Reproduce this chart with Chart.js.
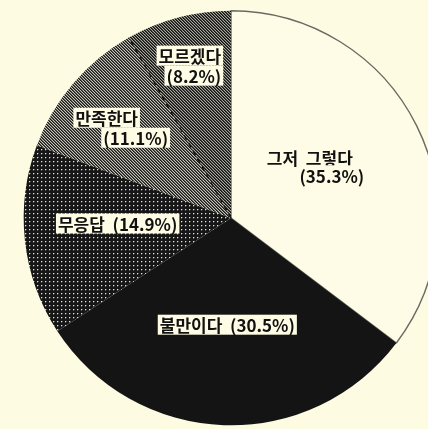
<!DOCTYPE html>
<html>
<head>
<meta charset="utf-8">
<script src="https://cdn.jsdelivr.net/npm/chart.js@4/dist/chart.umd.min.js"></script>
<style>
  html, body { margin: 0; padding: 0; background: #fdfbe2; overflow: hidden; }
  #wrap { width: 428px; height: 429px; overflow: hidden; }
  canvas { display: block; }
</style>
</head>
<body>
<div id="wrap"><canvas id="pie" width="462" height="429"></canvas></div>
<script>
// Survey answers, clockwise from 12 o'clock
const answers = ['그저  그렇다', '불만이다', '무응답', '만족한다', '모르겠다'];
const shares = [35.3, 30.5, 14.9, 11.1, 8.2];

// Label placement: fraction of radius along the slice's mid angle, then per-line nudges
const labelLayout = [
    { f: 0.484, split: true,  lines: [[-11, -15.5], [11, 2]] },
    { f: 0.515, split: false, lines: [[0, 0]] },
    { f: 0.55,  split: false, lines: [[0, -7]] },
    { f: 0.70,  split: true,  lines: [[-14, -6], [15, 14]] },
    { f: 0.76,  split: true,  lines: [[-1, -10], [3, 10]] }
];

// Small tiles for the print-style fills
function makeTile(size, paint) {
    const c = document.createElement('canvas');
    c.width = size;
    c.height = size;
    const g = c.getContext('2d');
    paint(g, size);
    return g.createPattern(c, 'repeat');
}

function hatch(light, dark, mid) {
    return makeTile(3, (g, s) => {
        g.fillStyle = light;
        g.fillRect(0, 0, s, s);
        for (let y = 0; y < s; y++) {
            for (let x = 0; x < s; x++) {
                const k = ((x - y) % s + s) % s;
                if (k === 0) { g.fillStyle = dark; g.fillRect(x, y, 1, 1); }
                if (k === 1) { g.fillStyle = mid; g.fillRect(x, y, 1, 1); }
            }
        }
    });
}

const dots = makeTile(4, (g, s) => {
    g.fillStyle = '#161616';
    g.fillRect(0, 0, s, s);
    g.fillStyle = '#5c5c56';
    g.fillRect(2, 1, 1, 1);
    g.fillRect(1, 2, 1, 1);
    g.fillStyle = '#e2e2d8';
    g.fillRect(1, 1, 1, 1);
});

const fills = [
    '#fefce6',
    '#141414',
    dots,
    hatch('#c6c5ba', '#1a1a1a', '#56564f'),
    hatch('#a9a89e', '#111111', '#44443e')
];

// Dashed divider between the two hatched slices + boxed labels
const pieLabels = {
    id: 'pieLabels',
    afterDatasetsDraw(chart) {
        const ctx = chart.ctx;
        const arcs = chart.getDatasetMeta(0).data;

        const cut = arcs[4];
        ctx.save();
        ctx.strokeStyle = '#111';
        ctx.lineWidth = 1.4;
        ctx.setLineDash([5, 4]);
        ctx.beginPath();
        ctx.moveTo(cut.x, cut.y);
        ctx.lineTo(cut.x + Math.cos(cut.startAngle) * cut.outerRadius,
                   cut.y + Math.sin(cut.startAngle) * cut.outerRadius);
        ctx.stroke();
        ctx.restore();

        ctx.save();
        ctx.font = 'bold 17px "Noto Sans CJK KR", "Noto Sans", sans-serif';
        ctx.textAlign = 'center';
        ctx.textBaseline = 'middle';
        arcs.forEach((arc, i) => {
            const lay = labelLayout[i];
            const mid = (arc.startAngle + arc.endAngle) / 2;
            const r = arc.outerRadius * lay.f;
            const ax = arc.x + Math.cos(mid) * r;
            const ay = arc.y + Math.sin(mid) * r;
            const pct = '(' + shares[i].toFixed(1) + '%)';
            const lines = lay.split ? [answers[i], pct] : [answers[i] + '  ' + pct];
            lines.forEach((txt, j) => {
                const x = ax + lay.lines[j][0];
                const y = ay + lay.lines[j][1];
                const w = ctx.measureText(txt).width;
                ctx.fillStyle = '#fffce6';
                ctx.fillRect(x - w / 2 - 2, y - 10, w + 4, 20);
                ctx.fillStyle = '#111';
                ctx.fillText(txt, x, y + 1);
            });
        });
        ctx.restore();
    }
};

new Chart(document.getElementById('pie'), {
    type: 'pie',
    data: {
        labels: answers,
        datasets: [{
            data: shares,
            backgroundColor: fills,
            borderColor: '#6a6a64',
            borderWidth: [1.4, 0, 0, 0, 0]
        }]
    },
    options: {
        responsive: false,
        animation: false,
        layout: { padding: { left: 23, right: 23, top: 10, bottom: 3 } },
        plugins: {
            legend: { display: false },
            tooltip: { enabled: false }
        }
    },
    plugins: [pieLabels]
});
</script>
</body>
</html>
